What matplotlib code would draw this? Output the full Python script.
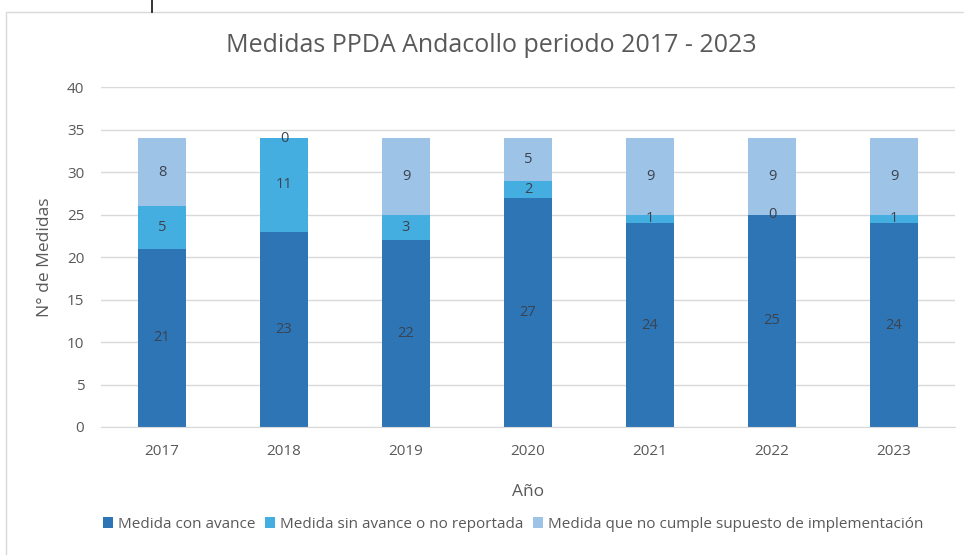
import matplotlib.pyplot as plt
from matplotlib.patches import Rectangle
from matplotlib.lines import Line2D

anios = ["2017", "2018", "2019", "2020", "2021", "2022", "2023"]
con_avance = [21, 23, 22, 27, 24, 25, 24]
sin_avance = [5, 11, 3, 2, 1, 0, 1]
no_cumple = [8, 0, 9, 5, 9, 9, 9]

series = ["Medida con avance", "Medida sin avance o no reportada",
          "Medida que no cumple supuesto de implementación"]
colores = ["#2E75B6", "#45AEE0", "#9DC3E6"]

plt.rcParams['font.family'] = ['Open Sans', 'DejaVu Sans']

fig = plt.figure(figsize=(9.64, 5.55), dpi=100)
ax = fig.add_axes([101 / 964, 1 - 427 / 555, 854 / 964, 340 / 555])

# borde del grafico
fig.patches.append(Rectangle((6 / 964, -0.01), 1.0, 1 - 12 / 555 + 0.01,
                             transform=fig.transFigure, fill=False,
                             edgecolor="#D9D9D9", linewidth=1))
# trazo cortado arriba
fig.lines.append(Line2D([152 / 964, 152 / 964], [1.0, 1 - 12 / 555],
                        transform=fig.transFigure, color="#222222", linewidth=1.3))

x = range(len(anios))
base2 = con_avance
base3 = [a + b for a, b in zip(con_avance, sin_avance)]
capas = [(con_avance, [0] * len(anios)), (sin_avance, base2), (no_cumple, base3)]

for (vals, base), nombre, color in zip(capas, series, colores):
    barras = ax.bar(x, vals, bottom=base, width=0.4, color=color, label=nombre, zorder=2)
    for b, v, y0 in zip(barras, vals, base):
        ax.text(b.get_x() + b.get_width() / 2, y0 + v / 2, str(v),
                ha="center", va="center", fontsize=10.5, color="#3A4350", zorder=3)

ax.set_ylim(0, 40)
ax.set_xlim(-0.5, 6.5)
ax.set_yticks(range(0, 41, 5))
ax.set_xticks(list(x))
ax.set_xticklabels(anios)
ax.yaxis.grid(True, color="#D9D9D9", linewidth=1, zorder=0)
ax.set_axisbelow(True)
for s in ["top", "right", "left"]:
    ax.spines[s].set_visible(False)
ax.spines["bottom"].set_color("#D9D9D9")
ax.tick_params(axis="both", length=0, colors="#595959", labelsize=11)
ax.tick_params(axis="y", pad=12)
ax.tick_params(axis="x", pad=12)

ax.set_ylabel("N° de Medidas", fontsize=12.5, color="#595959", labelpad=10)
ax.set_xlabel("Año", fontsize=12.5, color="#595959", labelpad=18)
fig.text(491 / 964, 1 - 46 / 555, "Medidas PPDA Andacollo periodo 2017 - 2023",
         ha="center", va="center", fontsize=18, color="#595959")

fig.legend(loc="center", bbox_to_anchor=(513 / 964, 1 - 524 / 555), ncol=3,
           frameon=False, fontsize=11, labelcolor="#595959", handlelength=0.7,
           handleheight=0.7, handletextpad=0.3, columnspacing=0.6)

fig.savefig("out.png", dpi=100)
